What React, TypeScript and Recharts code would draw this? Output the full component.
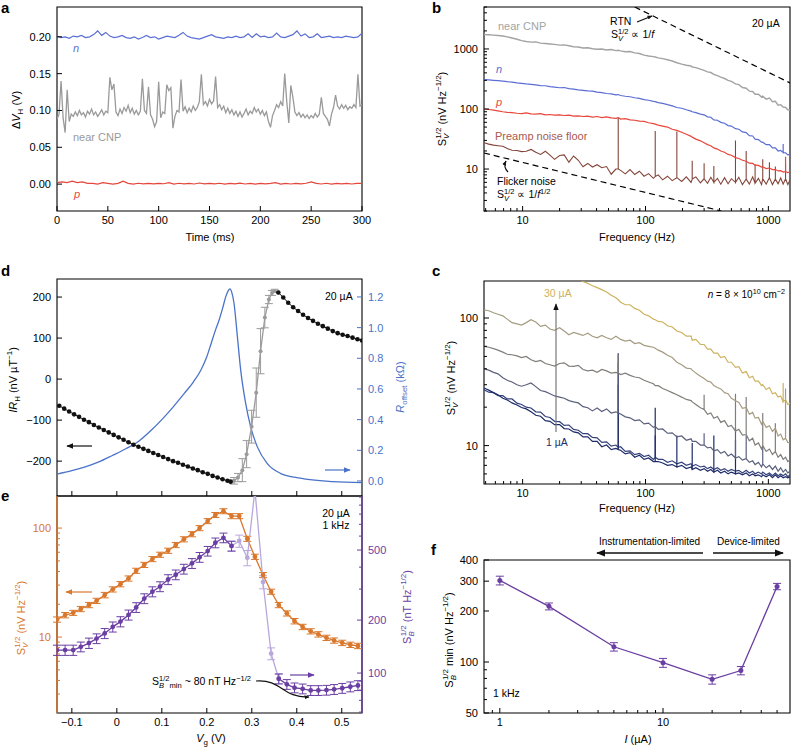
import React from 'react'
import { ComposedChart, Line, XAxis, YAxis, ReferenceArea, ReferenceLine, ErrorBar } from 'recharts'

const FONT = '"Liberation Sans", Arial, Helvetica, sans-serif'

const C = {
  aBlue: '#5b6fd4', aGray: '#9a9a9a', aRed: '#e4473b',
  bGray: '#a3a3a3', bBlue: '#5a6dd3', bRed: '#e8473b', bBrown: '#84463a', bBrownText: '#a85a4e',
  c1: '#1e2b68', c2: '#34417a', c5: '#5b607c', c10: '#817e7a', c20: '#a59c80', c30: '#cdb25e',
  dBlue: '#4a73c8', dGray: '#9b9b9b',
  orange: '#d9772c', purple: '#6a3ea2', lilac: '#b9a7dc',
}

// ---------- a: Hall voltage vs time ----------
const A_DT_GRAY = 2
const A_DT_BLUE = 4
const A_DT_RED = 5
const aGray = [
  0.088, 0.095, 0.140, 0.090, 0.070, 0.128, 0.085, 0.095, 0.092, 0.098,
  0.093, 0.100, 0.094, 0.097, 0.091, 0.099, 0.095, 0.102, 0.094, 0.098,
  0.092, 0.096, 0.101, 0.094, 0.099, 0.097, 0.145, 0.128, 0.136, 0.098,
  0.093, 0.102, 0.096, 0.104, 0.099, 0.107, 0.097, 0.103, 0.095, 0.100,
  0.094, 0.099, 0.143, 0.100, 0.096, 0.132, 0.094, 0.088, 0.078, 0.085,
  0.139, 0.090, 0.098, 0.096, 0.135, 0.127, 0.131, 0.076, 0.092, 0.100,
  0.098, 0.142, 0.099, 0.105, 0.097, 0.103, 0.098, 0.106, 0.100, 0.104,
  0.112, 0.149, 0.108, 0.112, 0.106, 0.115, 0.109, 0.113, 0.146, 0.104,
  0.108, 0.101, 0.106, 0.097, 0.103, 0.096, 0.101, 0.094, 0.099, 0.092,
  0.098, 0.091, 0.096, 0.102, 0.094, 0.099, 0.096, 0.104, 0.098, 0.102,
  0.095, 0.100, 0.093, 0.098, 0.085, 0.077, 0.093, 0.100, 0.108, 0.104,
  0.112, 0.106, 0.150, 0.112, 0.083, 0.134, 0.118, 0.098, 0.093, 0.097,
  0.091, 0.095, 0.090, 0.094, 0.089, 0.093, 0.090, 0.096, 0.091, 0.095,
  0.118, 0.096, 0.092, 0.088, 0.079, 0.095, 0.104, 0.121, 0.106, 0.102,
  0.108, 0.103, 0.107, 0.101, 0.105, 0.103, 0.108, 0.104, 0.149, 0.106,
  0.108,
]
const aBlue = [
  0.201, 0.199, 0.200, 0.198, 0.201, 0.200, 0.202, 0.199, 0.200, 0.203,
  0.208, 0.202, 0.206, 0.201, 0.199, 0.200, 0.202, 0.199, 0.198, 0.200,
  0.197, 0.199, 0.202, 0.199, 0.200, 0.197, 0.199, 0.201, 0.200, 0.199,
  0.202, 0.206, 0.201, 0.199, 0.198, 0.197, 0.199, 0.201, 0.203, 0.200,
  0.199, 0.198, 0.200, 0.199, 0.201, 0.199, 0.200, 0.204, 0.199, 0.204,
  0.200, 0.201, 0.199, 0.200, 0.205, 0.200, 0.199, 0.201, 0.203, 0.208,
  0.201, 0.204, 0.199, 0.200, 0.204, 0.199, 0.200, 0.201, 0.199, 0.200,
  0.199, 0.201, 0.200, 0.199, 0.200, 0.205,
]
const aRed = [
  0.002, 0.003, 0.002, 0.004, 0.002, 0.003, 0.001, 0.001, 0.000, 0.002,
  0.001, 0.000, 0.001, 0.004, 0.001, 0.000, 0.0012, 0.0003, 0.001, 0.0004,
  0.001, 0.0005, 0.002, 0.000, 0.0012, 0.0003, 0.001, 0.0002, 0.0015, 0.0004,
  0.001, 0.0003, 0.0012, 0.000, 0.001, 0.0004, 0.0013, 0.0002, 0.001, 0.0001,
  0.001, 0.0003, 0.001, 0.002, 0.000, 0.0011, 0.0002, 0.001, 0.0003, 0.0012,
  0.003, 0.001, 0.0002, 0.0012, 0.0001, 0.001, 0.0003, 0.0011, 0.0002, 0.001,
  0.001,
]
const aXTicks = [0, 50, 100, 150, 200, 250, 300]
const aYTicks = [0, 0.05, 0.1, 0.15, 0.2]

// ---------- b, c: noise spectra (shared frequency grid, Hz) ----------
const freq = [
  4.85, 5.3, 5.8, 6.3, 6.9, 7.5, 8.2, 9, 9.8, 10.7,
  11.7, 12.8, 14, 15.3, 16.7, 18.2, 20, 21.8, 23.8, 26,
  28.4, 31, 33.9, 37, 40.4, 44.1, 48.2, 52.6, 57.4, 60,
  62.7, 68.5, 74.8, 81.7, 89.2, 97.4, 106, 116, 120, 127,
  138, 151, 165, 180, 197, 215, 235, 240, 257, 280,
  300, 320, 340, 360, 385, 410, 440, 470, 500, 540,
  575, 615, 660, 700, 745, 780, 830, 880, 900, 960,
  1020, 1080, 1140, 1200, 1260, 1320, 1380, 1440, 1500,
]
const bGray = [
  1730, 1720, 1700, 1680, 1640, 1590, 1520, 1450, 1380, 1330,
  1300, 1310, 1250, 1230, 1210, 1190, 1160, 1170, 1130, 1090,
  1080, 1040, 1050, 1010, 990, 1000, 960, 980, 940, 950,
  930, 900, 905, 860, 840, 790, 765, 745, 735, 712,
  690, 660, 630, 590, 560, 535, 520, 500, 490, 460,
  440, 415, 405, 378, 360, 340, 322, 300, 288, 262,
  255, 228, 222, 198, 196, 176, 176, 158, 164, 146,
  152, 132, 134, 116, 118, 108, 106, 97, 96,
]
const bBlue = [
  310, 305, 300, 296, 292, 285, 280, 272, 268, 262,
  258, 252, 246, 244, 236, 231, 226, 228, 218, 214,
  209, 205, 201, 199, 191, 188, 181, 178, 172, 174,
  168, 163, 160, 154, 150, 143, 140, 134, 133, 128,
  124, 118, 113, 106, 103, 97, 92, 90, 87, 82,
  80, 74, 73, 66, 65, 60, 58, 53, 52, 47,
  46, 41.5, 40.5, 36, 35.5, 31.5, 31, 28, 28, 25.5,
  25.5, 22.5, 22.5, 20, 20.5, 18.8, 18.6, 17.2, 17.6,
]
const bRed = [
  100, 98, 96, 93, 90, 88, 87, 85, 84, 86,
  83, 82, 84, 80, 81, 79, 80, 78, 79, 76,
  77, 75, 76, 73, 75, 72, 74, 71, 70, 72,
  68, 69, 66, 65, 63, 62, 59, 57, 56, 54,
  52, 50, 46, 44, 41, 38, 35, 34, 31.5, 29.5,
  27.5, 25.5, 24.5, 22.5, 21.5, 20, 19, 17.5, 17, 15.5,
  15, 14, 13.5, 12.5, 12.4, 11.6, 11.5, 10.8, 10.9, 10.2,
  10.4, 9.8, 9.8, 9.3, 9.4, 8.9, 9.1, 8.7, 8.9,
]
const bBrown = [
  27.4, 26, 25, 24.5, 24, 22, 20.5, 20.3, 19.5, 19.8,
  21.2, 19, 17.5, 19.8, 17, 14.5, 16.8, 17.2, 13, 16.5,
  14, 10.9, 12.4, 10.8, 11.8, 10.5, 11, 8.2, 10, 10,
  9.5, 8.3, 9.8, 8.1, 9.2, 7.6, 8.4, 7, 7.5, 8,
  6.6, 7.6, 6.4, 7.2, 6.2, 7.4, 6, 6.8, 7.4, 5.9,
  6.9, 5.8, 7.3, 6, 7, 5.6, 7.2, 5.7, 6.9, 6,
  7.3, 5.5, 6.8, 5.6, 7.4, 5.8, 7, 5.5, 6.9, 5.6,
  7.2, 5.5, 6.8, 5.7, 7.1, 5.6, 6.9, 5.5, 6.6,
]
const bBrownSpikes: [number, number][] = [
  [60, 72], [120, 43], [180, 42], [240, 13.7], [300, 12.5], [360, 11.2], [540, 30],
  [660, 20], [780, 12], [900, 14.5], [1020, 13], [1140, 11], [1380, 12],
]
const bBlueSpikes: [number, number][] = [[1320, 26]]
const bRedSpikes: [number, number][] = [[1380, 16]]
const rtnF = [81.7, 1500]
const rtnV = [5000, 272]
const flickerF = [4.85, 414]
const flickerV = [18.5, 2]

const c30 = [
  null, null, null, null, null, null, null, null, null, null,
  null, null, null, null, null, null, null, null, null, null,
  205, 193, 187, 179, 173, 167, 160, 151, 144, 139,
  133, 127, 127, 119, 115, 107, 104, 98, 97, 94,
  93, 87, 85, 79, 77, 72, 72, 67, 68, 62,
  62, 57, 57, 53, 53, 49, 50, 45, 45, 41,
  41.5, 37, 38, 34, 35, 32, 32, 29.5, 30, 27.5,
  28.5, 25.5, 26, 24, 24.5, 22, 23, 21, 21.5,
]
const c20 = [
  116, 114, 110, 107, 104, 98, 92, 90, 88, 92,
  97, 93, 86, 88, 82, 80, 84, 79, 74, 77,
  75, 73, 76, 72, 70, 73, 70, 68, 72, 70,
  68, 66, 67, 63, 64, 61, 60, 59, 58, 56,
  54, 51, 49, 45, 43, 40.5, 40, 39, 37, 35,
  33.5, 32, 31.5, 29.5, 28.5, 27.8, 26, 25.5, 23.5, 22.5,
  21.8, 19.6, 19.9, 17.6, 18.2, 16.4, 16.6, 14.7, 15.5, 13.9,
  14.3, 12.9, 13.7, 11.9, 12.3, 11.1, 11.4, 10.6, 10.5,
]
const c10 = [
  60, 59, 57.5, 56, 54, 52, 51.5, 50.5, 49, 50,
  47, 45.5, 46.5, 44, 43, 42, 44, 44.5, 42, 41.8,
  42.5, 39.5, 38.5, 39, 37.5, 39.5, 38.5, 37, 37.5, 37,
  36, 37, 35.5, 34.5, 34, 32.5, 31.5, 30.5, 29.5, 29.5,
  28, 27, 26, 25, 24, 23, 22.5, 22, 21, 19.8,
  19.2, 17.6, 18, 16.4, 16.9, 15.2, 15.7, 14.1, 14.4, 13,
  13.4, 12.1, 12.2, 10.9, 11.4, 10.1, 10.5, 9.4, 10, 9,
  9.4, 8.5, 9, 8.1, 8.5, 7.8, 8.1, 7.5, 7.7,
]
const c5 = [
  40, 39, 37.5, 36.5, 34, 32.5, 31.5, 30, 29.2, 30,
  31, 29, 27, 26.5, 25.5, 24.5, 24, 23.5, 22.5, 22,
  21.6, 20.2, 19.8, 18.7, 19.7, 18.5, 19.4, 18, 18.4, 18,
  17.7, 16.8, 16.5, 15.7, 15.9, 14.8, 15, 13.9, 14.1, 13.4,
  13.5, 12.5, 12.6, 11.7, 11.9, 11, 11.3, 10.8, 10.8, 10.1,
  10.1, 9.6, 9.7, 9.1, 9.3, 8.7, 9, 8.3, 8.6, 8,
  8.2, 7.7, 7.9, 7.4, 7.6, 7.1, 7.4, 6.8, 7.2, 6.7,
  7, 6.5, 6.9, 6.3, 6.7, 6.2, 6.5, 6.1, 6.3,
]
const c2 = [
  27.4, 26.2, 26, 24.6, 24.6, 23.2, 23.2, 21.5, 21, 20,
  19.7, 18.4, 18.3, 16.9, 16.6, 15.5, 15.4, 14.4, 14.5, 13.4,
  13.2, 12.4, 12.4, 11.6, 11.5, 10.6, 10.7, 9.9, 10.1, 9.7,
  9.8, 9, 9.1, 8.5, 8.7, 8.2, 8.4, 7.8, 8.1, 7.8,
  7.8, 7.4, 7.6, 7.2, 7.4, 7, 7.2, 6.9, 7.1, 6.8,
  6.9, 6.6, 6.8, 6.5, 6.7, 6.4, 6.6, 6.3, 6.5, 6.3,
  6.4, 6.1, 6.4, 6.1, 6.3, 6, 6.2, 6, 6.2, 5.9,
  6.1, 5.8, 6.1, 5.8, 6, 5.8, 6, 5.7, 5.9,
]
const c1 = [
  28.3, 27.2, 26, 25, 23.5, 22.8, 21.6, 20.8, 19.9, 19.4,
  18.4, 17.3, 17, 15.7, 15.5, 14.6, 14.6, 13.6, 13.5, 12.8,
  12.6, 11.7, 11.7, 10.8, 10.8, 9.8, 10.1, 9.3, 9.5, 9.3,
  9.2, 8.6, 8.8, 8.1, 8.4, 7.8, 8, 7.5, 7.5, 7.5,
  7.3, 7, 7.1, 6.8, 7, 6.6, 6.8, 6.5, 6.7, 6.4,
  6.6, 6.3, 6.5, 6.2, 6.4, 6.1, 6.3, 6, 6.2, 6,
  6.1, 5.9, 6.1, 5.8, 6, 5.8, 5.9, 5.7, 5.9, 5.7,
  5.9, 5.6, 5.9, 5.6, 5.8, 5.6, 5.7, 5.6, 5.7,
]
const c30Spikes: [number, number][] = [[1320, 31]]
const c20Spikes: [number, number][] = [[1380, 28]]
const c10Spikes: [number, number][] = [[60, 52], [300, 25], [540, 25.5], [660, 24], [900, 18], [1140, 15]]
const c5Spikes: [number, number][] = [[60, 45], [300, 12.5], [540, 14], [660, 12], [900, 10]]
const c2Spikes: [number, number][] = [[60, 30], [120, 12]]
const c1Spikes: [number, number][] = [[60, 53], [120, 19.8], [180, 12], [240, 10.5], [360, 12], [540, 11]]

const fTicks = [5, 6, 7, 8, 9, 10, 20, 30, 40, 50, 60, 70, 80, 90, 100, 200, 300, 400, 500, 600, 700, 800, 900, 1000]
const bYTicks = [2, 3, 4, 5, 6, 7, 8, 9, 10, 20, 30, 40, 50, 60, 70, 80, 90, 100, 200, 300, 400, 500, 600, 700, 800, 900, 1000, 2000, 3000, 4000, 5000]
const cYTicks = [6, 7, 8, 9, 10, 20, 30, 40, 50, 60, 70, 80, 90, 100]

// ---------- d: IR_H and R_offset vs gate voltage ----------
const dVgL = [-0.128, -0.117, -0.106, -0.095, -0.084, -0.073, -0.062, -0.051, -0.040, -0.029, -0.018, -0.007, 0.004, 0.015, 0.026, 0.037, 0.048, 0.059, 0.070, 0.081, 0.092, 0.103, 0.114, 0.125, 0.136, 0.147, 0.158, 0.169, 0.180, 0.191, 0.202, 0.213, 0.224, 0.235, 0.246, 0.253]
const dIrL = [-65, -72, -79, -86, -92, -99, -105, -112, -118, -124, -130, -136, -142, -148, -154, -160, -165, -170, -175, -180, -185, -190, -195, -200, -204, -209, -213, -218, -222, -227, -231, -236, -240, -244, -248, -250]
const dVgM = [0.253, 0.2605, 0.2693, 0.279, 0.2885, 0.2996, 0.3099, 0.3195, 0.329, 0.338, 0.345, 0.351, 0.359]
const dIrM = [-250, -248, -240, -222, -183, -116, -33, 68, 150, 194, 210, 215, 211]
const dErrM = [0, 8, 10, 28, 33, 40, 60, 55, 25, 10, 6, 4, 0]
const dVgR = [0.359, 0.370, 0.381, 0.392, 0.403, 0.414, 0.425, 0.436, 0.447, 0.458, 0.469, 0.480, 0.491, 0.502, 0.513, 0.524, 0.535, 0.545]
const dIrR = [211, 199, 186, 175, 166, 157, 149, 142, 135, 129, 123, 117, 112, 108, 105, 101, 97, 94]
const dVgBlue = [-0.133, -0.100, -0.070, -0.040, -0.010, 0.020, 0.050, 0.077, 0.100, 0.125, 0.150, 0.170, 0.187, 0.200, 0.210, 0.220, 0.2274, 0.235, 0.2422, 0.2475, 0.2517, 0.2555, 0.2605, 0.268, 0.2753, 0.2863, 0.2974, 0.3121, 0.334, 0.3636, 0.4077, 0.481, 0.545]
const dRBlue = [0.045, 0.067, 0.092, 0.124, 0.166, 0.210, 0.262, 0.332, 0.400, 0.482, 0.571, 0.645, 0.724, 0.810, 0.900, 0.990, 1.05, 1.125, 1.202, 1.24, 1.252, 1.23, 1.159, 0.941, 0.724, 0.507, 0.354, 0.224, 0.115, 0.050, 0.018, -0.004, -0.011]
const dMarkVg = [-0.025, 0.253, 0.428]
const dMarkColors = [C.aBlue, C.aGray, C.aRed]
const vgTicks = [-0.1, 0, 0.1, 0.2, 0.3, 0.4, 0.5]
const dLTicks = [-200, -100, 0, 100, 200]
const dRTicks = [0, 0.2, 0.4, 0.6, 0.8, 1.0, 1.2]

// ---------- e: S_V and S_B vs gate voltage ----------
const eVg = [-0.133, -0.115, -0.097, -0.080, -0.062, -0.045, -0.027, -0.009, 0.008, 0.026, 0.043, 0.061, 0.079, 0.096, 0.114, 0.131, 0.149, 0.167, 0.184, 0.202, 0.219, 0.237, 0.255, 0.272, 0.290, 0.307, 0.325, 0.343, 0.360, 0.378, 0.395, 0.413, 0.431, 0.448, 0.466, 0.483, 0.501, 0.519, 0.536]
const eSv = [14.5, 15.9, 16.7, 18.1, 19.7, 21.5, 24.3, 27.4, 30.6, 34.5, 40.6, 46, 52, 57, 62, 70, 79, 88, 100, 116, 132, 143, 128.8, 128.8, 79.8, 54.6, 37.1, 26.1, 19.7, 16.5, 14.0, 12.4, 11.3, 10.6, 9.85, 9.3, 8.85, 8.5, 8.3]
const eSvErr = [0.8, 0.9, 0.9, 1, 1.1, 1.2, 1.4, 1.5, 1.7, 1.9, 2.2, 2.5, 2.8, 3.1, 3.4, 3.8, 4.3, 4.8, 5.4, 6.2, 7, 7.6, 6.9, 6.9, 4.3, 3, 2, 1.4, 1.1, 0.9, 0.8, 0.7, 0.63, 0.6, 0.55, 0.52, 0.5, 0.48, 0.47]
const eSb = [135, 135, 135, 141, 148, 157, 168, 183, 196, 214, 236, 265, 290, 310, 340, 362, 390, 420, 455, 493, 550, 587, 527, 563, 452, 1100, 329, 129, 92.8, 86.3, 82.5, 81.4, 79.7, 79.7, 80, 80.8, 82, 83.6, 85]
const eSbErr = [9, 9, 9, 9, 10, 10, 11, 12, 13, 14, 15, 17, 19, 20, 22, 23, 25, 27, 29, 31, 35, 37, 34, 45, 45, 0, 28, 10, 6, 5.5, 5.3, 5.2, 5.1, 5.1, 5.1, 5.2, 5.3, 5.4, 5.5]
const eLTicks = [3, 4, 5, 6, 7, 8, 9, 10, 20, 30, 40, 50, 60, 70, 80, 90, 100]
const eRTicks = [60, 70, 80, 90, 100, 200, 300, 400, 500, 600, 700, 800, 900, 1000]

// ---------- f: minimum S_B vs current ----------
const fI = [1, 2, 5, 10, 20, 30, 50]
const fS = [303, 213, 123, 99, 79, 89, 279]
const fErr = [18, 10, 7, 6, 5, 5, 12]
const fXTicks = [0.9, 1, 2, 3, 4, 5, 6, 7, 8, 9, 10, 20, 30, 40, 50]
const fYTicks = [50, 60, 70, 80, 90, 100, 200, 300, 400]

// ---------- helpers ----------
type Pt = { x: number; y: number; e?: number }
const zip = (xs: number[], ys: number[], es?: number[]): Pt[] =>
  xs.map((x, i) => ({ x, y: ys[i], e: es ? es[i] : undefined }))
const timeSeries = (dt: number, ys: number[]): Pt[] => ys.map((y, i) => ({ x: i * dt, y }))
function spectrum(ys: (number | null)[], spikes: [number, number][] = []): Pt[] {
  const out: Pt[] = []
  freq.forEach((f, i) => {
    const y = ys[i]
    if (y == null) return
    out.push({ x: f, y })
    const s = spikes.find((p) => p[0] === f)
    if (s) out.push({ x: f, y: s[1] }, { x: f, y })
  })
  return out
}

const signed = (d: number) => (v: number) => (v === 0 ? '0' : (v < 0 ? '−' : '') + Math.abs(v).toFixed(d))

type TickOpts = { labels?: number[]; fmt?: (v: number) => string; color?: string; hide?: boolean }
function tickOf(side: 'left' | 'right' | 'bottom', o: TickOpts = {}) {
  const col = o.color ?? '#000'
  return (p: any) => {
    const v = p.payload.value as number
    const major = !o.labels || o.labels.includes(v)
    const len = major ? 5 : 3
    const txt = !o.hide && major ? (o.fmt ? o.fmt(v) : String(v)) : ''
    const { x, y } = p
    const tp = { fontSize: 11, fontFamily: FONT, fill: col }
    if (side === 'bottom')
      return (
        <g>
          <line x1={x} x2={x} y1={y} y2={y - len} stroke={col} />
          {txt && <text x={x} y={y + 13} textAnchor="middle" {...tp}>{txt}</text>}
        </g>
      )
    if (side === 'left')
      return (
        <g>
          <line x1={x} x2={x + len} y1={y} y2={y} stroke={col} />
          {txt && <text x={x - 6} y={y + 4} textAnchor="end" {...tp}>{txt}</text>}
        </g>
      )
    return (
      <g>
        <line x1={x} x2={x - len} y1={y} y2={y} stroke={col} />
        {txt && <text x={x + 6} y={y + 4} textAnchor="start" {...tp}>{txt}</text>}
      </g>
    )
  }
}
const markTick = (p: any) => (
  <line x1={p.x} x2={p.x} y1={p.y - 11} y2={p.y - 2} stroke={dMarkColors[p.index]} strokeWidth={1.6} />
)

const AX = { type: 'number' as const, allowDataOverflow: true, interval: 0 as const, tickSize: 0, tickMargin: 0, axisLine: false, tickLine: false }
const LN = { isAnimationActive: false, dot: false as const, activeDot: false as const, dataKey: 'y', type: 'linear' as const }

type Rect = { x0: number; y0: number; x1: number; y1: number }
function Panel({ r, lw, rw = 0, th = 0, bh, children }: { r: Rect; lw: number; rw?: number; th?: number; bh: number; children: React.ReactNode }) {
  const width = lw + (r.x1 - r.x0) + rw + 2
  const height = 2 + th + (r.y1 - r.y0) + bh
  return (
    <div style={{ position: 'absolute', left: r.x0 - lw, top: r.y0 - th - 2 }}>
      <ComposedChart width={width} height={height} margin={{ top: 2, right: 2, bottom: 0, left: 0 }}>
        {children}
      </ComposedChart>
    </div>
  )
}

const rA = { x0: 57, y0: 7, x1: 362, y1: 211 }
const rB = { x0: 484, y0: 7, x1: 790, y1: 211 }
const rC = { x0: 484, y0: 281, x1: 790, y1: 484 }
const rD = { x0: 57, y0: 279, x1: 362, y1: 496 }
const rE = { x0: 57, y0: 496, x1: 362, y1: 713 }
const rF = { x0: 484, y0: 560, x1: 790, y1: 713 }
const freqDom = [4.85, 1500]
const vgDom = [-0.133, 0.545]

function PanelA() {
  const yd = [-0.0365, 0.2405]
  return (
    <Panel r={rA} lw={50} bh={22}>
      <XAxis {...AX} dataKey="x" domain={[0, 300]} ticks={aXTicks} height={22} tick={tickOf('bottom')} />
      <YAxis {...AX} domain={yd} ticks={aYTicks} width={50} tick={tickOf('left', { fmt: (v) => v.toFixed(2) })} />
      <ReferenceArea x1={0} x2={300} y1={yd[0]} y2={yd[1]} fill="none" stroke="#000" strokeWidth={1.1} ifOverflow="visible" />
      <Line {...LN} data={timeSeries(A_DT_RED, aRed)} stroke={C.aRed} strokeWidth={1.2} />
      <Line {...LN} data={timeSeries(A_DT_GRAY, aGray)} stroke={C.aGray} strokeWidth={1.3} />
      <Line {...LN} data={timeSeries(A_DT_BLUE, aBlue)} stroke={C.aBlue} strokeWidth={1.2} />
    </Panel>
  )
}

function PanelB() {
  const yd = [2, 5000]
  return (
    <Panel r={rB} lw={50} bh={22}>
      <XAxis {...AX} dataKey="x" scale="log" domain={freqDom} ticks={fTicks} height={22} tick={tickOf('bottom', { labels: [10, 100, 1000] })} />
      <YAxis {...AX} scale="log" domain={yd} ticks={bYTicks} width={50} tick={tickOf('left', { labels: [10, 100, 1000] })} />
      <ReferenceArea x1={freqDom[0]} x2={freqDom[1]} y1={yd[0]} y2={yd[1]} fill="none" stroke="#000" strokeWidth={1.1} ifOverflow="visible" />
      <Line {...LN} data={spectrum(bBrown, bBrownSpikes)} stroke={C.bBrown} strokeWidth={1.1} />
      <Line {...LN} data={spectrum(bRed, bRedSpikes)} stroke={C.bRed} strokeWidth={1.2} />
      <Line {...LN} data={spectrum(bBlue, bBlueSpikes)} stroke={C.bBlue} strokeWidth={1.2} />
      <Line {...LN} data={spectrum(bGray)} stroke={C.bGray} strokeWidth={1.4} />
      <Line {...LN} data={zip(rtnF, rtnV)} stroke="#000" strokeWidth={1.2} strokeDasharray="6 4" />
      <Line {...LN} data={zip(flickerF, flickerV)} stroke="#000" strokeWidth={1.2} strokeDasharray="6 4" />
    </Panel>
  )
}

function PanelC() {
  const yd = [5, 195]
  const traces: [(number | null)[], [number, number][], string][] = [
    [c2, c2Spikes, C.c2], [c1, c1Spikes, C.c1], [c5, c5Spikes, C.c5],
    [c10, c10Spikes, C.c10], [c20, c20Spikes, C.c20], [c30, c30Spikes, C.c30],
  ]
  return (
    <Panel r={rC} lw={50} bh={22}>
      <XAxis {...AX} dataKey="x" scale="log" domain={freqDom} ticks={fTicks} height={22} tick={tickOf('bottom', { labels: [10, 100, 1000] })} />
      <YAxis {...AX} scale="log" domain={yd} ticks={cYTicks} width={50} tick={tickOf('left', { labels: [10, 100] })} />
      <ReferenceArea x1={freqDom[0]} x2={freqDom[1]} y1={yd[0]} y2={yd[1]} fill="none" stroke="#000" strokeWidth={1.1} ifOverflow="visible" />
      {traces.map(([vals, sp, col], k) => (
        <Line key={k} {...LN} data={spectrum(vals, sp)} stroke={col} strokeWidth={1.2} />
      ))}
    </Panel>
  )
}

function PanelD() {
  const yl = [-285, 244]
  const yr = [-0.098, 1.317]
  return (
    <Panel r={rD} lw={50} rw={40} th={14} bh={2}>
      <XAxis {...AX} dataKey="x" domain={vgDom} ticks={vgTicks} height={2} tick={tickOf('bottom', { hide: true })} />
      <XAxis {...AX} xAxisId="mk" orientation="top" domain={vgDom} ticks={dMarkVg} height={14} tick={markTick} />
      <YAxis {...AX} yAxisId="L" domain={yl} ticks={dLTicks} width={50} tick={tickOf('left', { fmt: signed(0) })} />
      <YAxis {...AX} yAxisId="R" orientation="right" domain={yr} ticks={dRTicks} width={40} tick={tickOf('right', { fmt: (v) => v.toFixed(1), color: C.dBlue })} />
      <ReferenceArea yAxisId="L" x1={vgDom[0]} x2={vgDom[1]} y1={yl[0]} y2={yl[1]} fill="none" stroke="#000" strokeWidth={1.1} ifOverflow="visible" />
      <Line {...LN} yAxisId="R" type="monotone" data={zip(dVgBlue, dRBlue)} stroke={C.dBlue} strokeWidth={1.3} />
      <Line {...LN} yAxisId="L" data={zip(dVgM, dIrM, dErrM)} stroke={C.dGray} strokeWidth={1.3} dot={{ r: 2, fill: C.dGray, stroke: 'none' }}>
        <ErrorBar dataKey="e" width={4} stroke={C.dGray} strokeWidth={1} direction="y" isAnimationActive={false} />
      </Line>
      <Line {...LN} yAxisId="L" data={zip(dVgL, dIrL)} stroke="#111" strokeWidth={1} dot={{ r: 2.3, fill: '#111', stroke: 'none' }} />
      <Line {...LN} yAxisId="L" data={zip(dVgR, dIrR)} stroke="#111" strokeWidth={1} dot={{ r: 2.3, fill: '#111', stroke: 'none' }} />
    </Panel>
  )
}

function PanelE() {
  const yl = [2.01, 197]
  const yr = [59.3, 1014]
  const sb = zip(eVg, eSb, eSbErr)
  return (
    <Panel r={rE} lw={50} rw={40} bh={22}>
      <XAxis {...AX} dataKey="x" domain={vgDom} ticks={vgTicks} height={22} tick={tickOf('bottom', { fmt: signed(1) })} />
      <YAxis {...AX} yAxisId="L" scale="log" domain={yl} ticks={eLTicks} width={50} tick={tickOf('left', { labels: [10, 100], color: C.orange })} />
      <YAxis {...AX} yAxisId="R" orientation="right" scale="log" domain={yr} ticks={eRTicks} width={40} tick={tickOf('right', { labels: [100, 200, 500], color: C.purple })} />
      <ReferenceArea yAxisId="L" x1={vgDom[0]} x2={vgDom[1]} y1={yl[0]} y2={yl[1]} fill="none" stroke="#000" strokeWidth={1.1} ifOverflow="visible" />
      <ReferenceLine yAxisId="L" x={vgDom[0]} stroke={C.orange} strokeWidth={1.4} />
      <ReferenceLine yAxisId="L" x={vgDom[1]} stroke={C.purple} strokeWidth={1.4} />
      <Line {...LN} yAxisId="L" data={zip(eVg, eSv, eSvErr)} stroke={C.orange} strokeWidth={1.3} dot={{ r: 2.4, fill: C.orange, stroke: 'none' }}>
        <ErrorBar dataKey="e" width={4} stroke={C.orange} strokeWidth={1} direction="y" isAnimationActive={false} />
      </Line>
      <Line {...LN} yAxisId="R" data={sb.slice(22, 29)} stroke={C.lilac} strokeWidth={1.3} dot={{ r: 2.4, fill: C.lilac, stroke: 'none' }}>
        <ErrorBar dataKey="e" width={4} stroke={C.lilac} strokeWidth={1} direction="y" isAnimationActive={false} />
      </Line>
      <Line {...LN} yAxisId="R" data={sb.slice(0, 23)} stroke={C.purple} strokeWidth={1.3} dot={{ r: 2.4, fill: C.purple, stroke: 'none' }}>
        <ErrorBar dataKey="e" width={4} stroke={C.purple} strokeWidth={1} direction="y" isAnimationActive={false} />
      </Line>
      <Line {...LN} yAxisId="R" data={sb.slice(28)} stroke={C.purple} strokeWidth={1.3} dot={{ r: 2.4, fill: C.purple, stroke: 'none' }}>
        <ErrorBar dataKey="e" width={4} stroke={C.purple} strokeWidth={1} direction="y" isAnimationActive={false} />
      </Line>
    </Panel>
  )
}

function PanelF() {
  const xd = [0.8, 60]
  const yd = [50, 400]
  return (
    <Panel r={rF} lw={50} bh={22}>
      <XAxis {...AX} dataKey="x" scale="log" domain={xd} ticks={fXTicks} height={22} tick={tickOf('bottom', { labels: [1, 10] })} />
      <YAxis {...AX} scale="log" domain={yd} ticks={fYTicks} width={50} tick={tickOf('left', { labels: [50, 100, 200, 300, 400] })} />
      <ReferenceArea x1={xd[0]} x2={xd[1]} y1={yd[0]} y2={yd[1]} fill="none" stroke="#000" strokeWidth={1.1} ifOverflow="visible" />
      <Line {...LN} data={zip(fI, fS, fErr)} stroke={C.purple} strokeWidth={1.3} dot={{ r: 2.5, fill: C.purple, stroke: 'none' }}>
        <ErrorBar dataKey="e" width={4} stroke={C.purple} strokeWidth={1} direction="y" isAnimationActive={false} />
      </Line>
    </Panel>
  )
}

// ---------- text overlay ----------
type Seg = { t: string; i?: boolean; sub?: boolean; sup?: boolean; dx?: number }
function Rich({ x, y, segs, size = 11, fill = '#000', anchor = 'start', rot = false, bold = false }: {
  x: number; y: number; segs: Seg[]; size?: number; fill?: string; anchor?: 'start' | 'middle' | 'end'; rot?: boolean; bold?: boolean
}) {
  let cur = 0
  return (
    <text x={x} y={y} fill={fill} fontSize={size} fontFamily={FONT} textAnchor={anchor} fontWeight={bold ? 'bold' : undefined}
      transform={rot ? `rotate(-90 ${x} ${y})` : undefined}>
      {segs.map((s, k) => {
        const off = s.sup ? -size * 0.42 : s.sub ? size * 0.3 : 0
        const dy = off - cur
        cur = off
        return (
          <tspan key={k} dy={dy || undefined} dx={s.dx} fontSize={s.sup || s.sub ? size * 0.72 : size} fontStyle={s.i ? 'italic' : undefined}>
            {s.t}
          </tspan>
        )
      })}
    </text>
  )
}
const plain = (t: string): Seg[] => [{ t }]
const sHalf = (sym: string): Seg[] => [{ t: 'S' }, { t: sym, sub: true, i: true }, { t: '1/2', sup: true, dx: -5 }]
const perRootHz = (unit: string): Seg[] => [{ t: ` (${unit} Hz` }, { t: '−1/2', sup: true }, { t: ')' }]

function Overlay() {
  const heads: [string, string, number][] = [['k', '#111', 7], ['ks', '#111', 5], ['kl', '#111', 9], ['b', C.dBlue, 7], ['o', C.orange, 7], ['p', C.purple, 7]]
  const arrow = (d: string, id: string, col: string, w = 1.2) => (
    <path d={d} stroke={col} strokeWidth={w} fill="none" markerEnd={`url(#ah-${id})`} />
  )
  return (
    <svg width={792} height={749} style={{ position: 'absolute', left: 0, top: 0, pointerEvents: 'none', overflow: 'visible' }}>
      <defs>
        {heads.map(([id, col, s]) => (
          <marker key={id} id={`ah-${id}`} viewBox="0 0 10 10" refX={9} refY={5} markerWidth={s} markerHeight={s} markerUnits="userSpaceOnUse" orient="auto">
            <path d="M0,1 L10,5 L0,9 Z" fill={col} />
          </marker>
        ))}
      </defs>

      {/* panel letters */}
      <Rich x={1} y={13} segs={plain('a')} size={15} bold />
      <Rich x={432} y={13} segs={plain('b')} size={15} bold />
      <Rich x={1} y={276} segs={plain('d')} size={15} bold />
      <Rich x={432} y={276} segs={plain('c')} size={15} bold />
      <Rich x={1} y={501} segs={plain('e')} size={15} bold />
      <Rich x={431} y={555} segs={plain('f')} size={15} bold />

      {/* a */}
      <Rich x={20} y={110} rot anchor="middle" segs={[{ t: 'Δ' }, { t: 'V', i: true }, { t: 'H', sub: true }, { t: ' (V)' }]} />
      <Rich x={210} y={241} anchor="middle" segs={plain('Time (ms)')} />
      <Rich x={73} y={52} fill={C.aBlue} segs={[{ t: 'n', i: true }]} />
      <Rich x={73} y={141} fill={C.aGray} segs={plain('near CNP')} />
      <Rich x={74} y={198} fill={C.aRed} segs={[{ t: 'p', i: true }]} />

      {/* b */}
      <Rich x={446} y={109} rot anchor="middle" segs={[...sHalf('V'), ...perRootHz('nV')]} />
      <Rich x={637} y={241} anchor="middle" segs={plain('Frequency (Hz)')} />
      <Rich x={498} y={30} fill={C.bGray} segs={plain('near CNP')} />
      <Rich x={496} y={73} fill={C.bBlue} segs={[{ t: 'n', i: true }]} />
      <Rich x={496} y={106} fill={C.bRed} segs={[{ t: 'p', i: true }]} />
      <Rich x={495} y={140} fill={C.bBrownText} segs={plain('Preamp noise floor')} />
      <Rich x={610} y={25} size={10.5} segs={plain('RTN')} />
      <Rich x={611} y={38} size={10.5} segs={[...sHalf('V'), { t: ' ∝ 1/' }, { t: 'f', i: true }]} />
      <Rich x={752} y={27} size={10.5} segs={plain('20 µA')} />
      <Rich x={497} y={185} size={10.5} segs={plain('Flicker noise')} />
      <Rich x={497} y={198} size={10.5} segs={[...sHalf('V'), { t: ' ∝ 1/' }, { t: 'f', i: true }, { t: '1/2', sup: true }]} />
      {arrow('M 637 22 L 652 16', 'ks', '#111')}
      {arrow('M 508 172 Q 503 167 506 161', 'ks', '#111')}

      {/* c */}
      <Rich x={455} y={378} rot anchor="middle" segs={[...sHalf('V'), ...perRootHz('nV')]} />
      <Rich x={637} y={512} anchor="middle" segs={plain('Frequency (Hz)')} />
      <Rich x={544} y={297} size={10.5} fill={C.c30} segs={plain('30 µA')} />
      <Rich x={546} y={446} size={10.5} fill={C.c1} segs={plain('1 µA')} />
      <Rich x={785} y={298} size={10} anchor="end" segs={[{ t: 'n', i: true }, { t: ' = 8 × 10' }, { t: '10', sup: true }, { t: ' cm' }, { t: '−2', sup: true }]} />
      {arrow('M 556 432 L 556 304', 'k', '#777')}

      {/* d */}
      <Rich x={17} y={380} rot anchor="middle" segs={[{ t: 'IR', i: true }, { t: 'H', sub: true }, { t: ' (nV µT' }, { t: '−1', sup: true }, { t: ')' }]} />
      <Rich x={404} y={387} rot anchor="middle" fill={C.dBlue} segs={[{ t: 'R', i: true }, { t: 'offset', sub: true }, { t: ' (kΩ)' }]} />
      <Rich x={325} y={300} size={10.5} segs={plain('20 µA')} />
      {arrow('M 92 446 L 67 446', 'k', '#111')}
      {arrow('M 325 470 L 350 470', 'b', C.dBlue)}

      {/* e */}
      <Rich x={25} y={618} rot anchor="middle" fill={C.orange} segs={[...sHalf('V'), ...perRootHz('nV')]} />
      <Rich x={411} y={607} rot anchor="middle" fill={C.purple} segs={[...sHalf('B'), ...perRootHz('nT')]} />
      <Rich x={211} y={742} anchor="middle" segs={[{ t: 'V', i: true }, { t: 'g', sub: true }, { t: ' (V)' }]} />
      <Rich x={336} y={517} size={10.5} anchor="middle" segs={plain('20 µA')} />
      <Rich x={336} y={529} size={10.5} anchor="middle" segs={plain('1 kHz')} />
      <Rich x={152} y={685} size={10.5} segs={[...sHalf('B'), { t: 'min', sub: true }, { t: ' ~ 80 nT Hz' }, { t: '−1/2', sup: true }]} />
      {arrow('M 92 592 L 66 592', 'o', C.orange)}
      {arrow('M 290 675 L 314 675', 'p', C.purple)}
      {arrow('M 256 681 C 282 679, 282 698, 309 697', 'ks', '#111')}

      {/* f */}
      <Rich x={453} y={640} rot anchor="middle" segs={[...sHalf('B'), { t: ' min (nV Hz' }, { t: '−1/2', sup: true }, { t: ')' }]} />
      <Rich x={638} y={743} anchor="middle" segs={[{ t: 'I', i: true }, { t: ' (µA)' }]} />
      <Rich x={599} y={545} size={10} segs={plain('Instrumentation-limited')} />
      <Rich x={717} y={545} size={10} segs={plain('Device-limited')} />
      <Rich x={493} y={697} size={10.5} segs={plain('1 kHz')} />
      {arrow('M 703 553 L 597 553', 'kl', '#111', 1.5)}
      {arrow('M 713 553 L 783 553', 'kl', '#111', 1.5)}
    </svg>
  )
}

export default function App() {
  return (
    <div style={{ position: 'absolute', left: 0, top: 0, width: 792, height: 749, background: '#fff', fontFamily: FONT, overflow: 'hidden' }}>
      <style>{'.recharts-surface{overflow:visible}'}</style>
      <PanelA />
      <PanelB />
      <PanelC />
      <PanelD />
      <PanelE />
      <PanelF />
      <Overlay />
    </div>
  )
}
